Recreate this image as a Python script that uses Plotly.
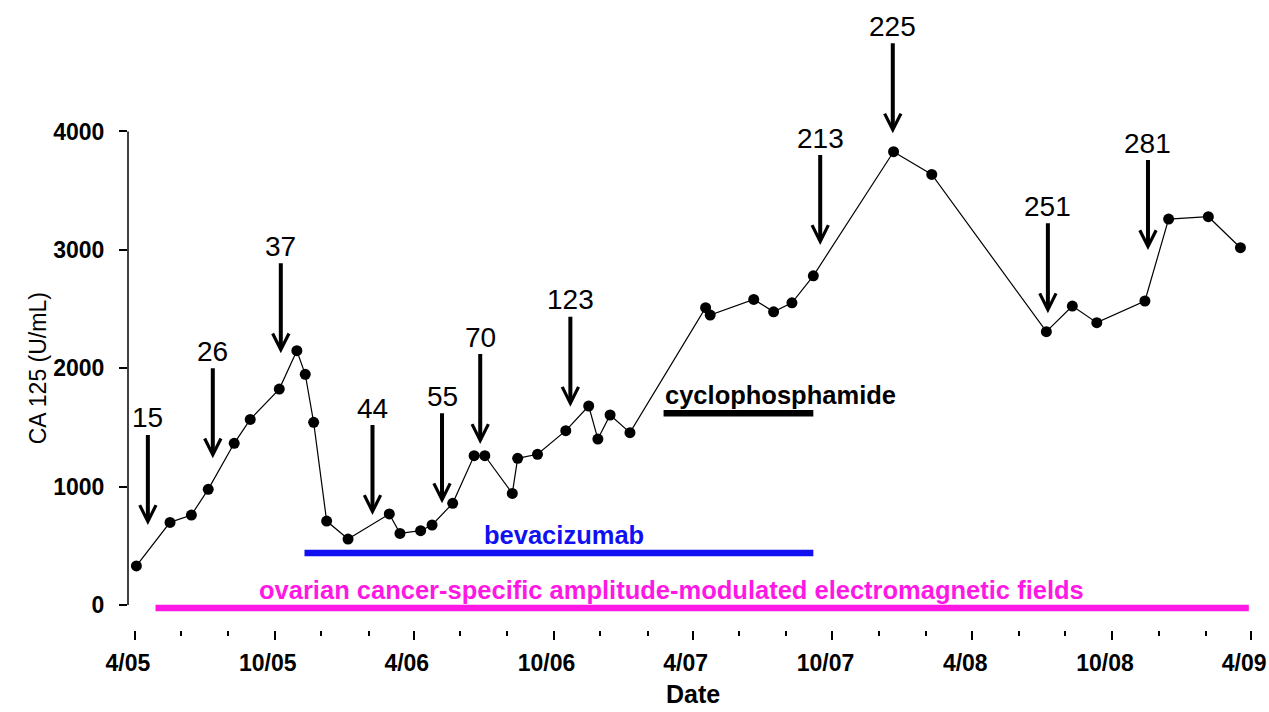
import plotly.graph_objects as go

# ---- data ----
sample_dates = [
    "2005-04-03", "2005-05-17", "2005-06-14", "2005-07-06", "2005-08-09", "2005-08-30",
    "2005-10-07", "2005-10-30", "2005-11-10", "2005-11-21", "2005-12-08", "2006-01-05",
    "2006-02-28", "2006-03-14", "2006-04-10", "2006-04-25", "2006-05-22", "2006-06-19",
    "2006-07-03", "2006-08-08", "2006-08-15", "2006-09-10", "2006-10-17", "2006-11-16",
    "2006-11-28", "2006-12-14", "2007-01-09", "2007-04-18", "2007-04-24", "2007-06-20",
    "2007-07-16", "2007-08-09", "2007-09-06", "2007-12-20", "2008-02-08", "2008-07-07",
    "2008-08-10", "2008-09-11", "2008-11-13", "2008-12-14", "2009-02-04", "2009-03-18",
]
ca125_values = [
    330, 698, 760, 977, 1366, 1568,
    1824, 2148, 1949, 1543, 709, 557,
    769, 605, 628, 676, 859, 1261,
    1261, 943, 1239, 1273, 1473, 1681,
    1402, 1605, 1456, 2512, 2449, 2581,
    2477, 2553, 2781, 3829, 3637, 2309,
    2525, 2385, 2568, 3260, 3280, 3018,
]

# annotated arrows (label, date pointed at, value at arrow tip)
arrow_labels = ["15", "26", "37", "44", "55", "70", "123", "213", "225", "251", "281"]
arrow_dates = ["2005-04-18", "2005-07-12", "2005-10-09", "2006-02-06", "2006-05-08",
               "2006-06-27", "2006-10-23", "2007-09-15", "2007-12-19", "2008-07-09",
               "2008-11-17"]
arrow_tips = [676, 1239, 2126, 760, 859, 1360, 1675, 3041, 3984, 2464, 2998]

# treatment periods
treatment_names = ["ovarian cancer-specific amplitude-modulated electromagnetic fields",
                   "bevacizumab", "cyclophosphamide"]
treatment_start = ["2005-04-28", "2005-11-09", "2007-02-22"]
treatment_end = ["2009-03-29", "2007-09-06", "2007-09-06"]
treatment_level = [-25, 440, 1620]
treatment_label_date = ["2007-03-05", "2006-10-14", "2007-07-25"]
treatment_colors = ["#ff18e4", "#1010f0", "#000000"]

y_ticks = [0, 1000, 2000, 3000, 4000]

FONT = "Liberation Sans, Arial, sans-serif"

fig = go.Figure()

# treatment bars
for name, s, e, lvl, c in zip(treatment_names, treatment_start, treatment_end,
                              treatment_level, treatment_colors):
    fig.add_trace(go.Scatter(x=[s, e], y=[lvl, lvl], mode="lines",
                             line=dict(color=c, width=6.5), hoverinfo="skip",
                             showlegend=False))

# data series
fig.add_trace(go.Scatter(x=sample_dates, y=ca125_values, mode="lines+markers",
                         line=dict(color="black", width=1.2),
                         marker=dict(color="black", size=11),
                         showlegend=False))

# treatment labels
for name, ld, lvl, c in zip(treatment_names, treatment_label_date, treatment_level,
                            treatment_colors):
    fig.add_annotation(x=ld, y=lvl, text="<b>" + name + "</b>", showarrow=False,
                       yshift=18, font=dict(family=FONT, size=25.5, color=c))

# arrows with numbers
for lab, d, v in zip(arrow_labels, arrow_dates, arrow_tips):
    fig.add_annotation(x=d, y=v, text=lab, showarrow=True, ax=0, ay=-107,
                       arrowhead=5, arrowsize=0.8, arrowwidth=4, arrowcolor="black",
                       font=dict(family=FONT, size=28, color="black"))

# y axis title
fig.add_annotation(xref="paper", yref="y", x=0, y=2000, xshift=-105,
                   text="CA 125 (U/mL)", textangle=-90, showarrow=False,
                   font=dict(family=FONT, size=23, color="black"))

# x axis title
fig.add_annotation(xref="paper", yref="paper", x=0.5, y=0, yshift=-64,
                   yanchor="middle", text="<b>Date</b>", showarrow=False,
                   font=dict(family=FONT, size=25, color="black"))

# y axis line limited to the 0-4000 span
fig.add_shape(type="line", xref="paper", yref="y", x0=0, x1=0, y0=0, y1=4000,
              line=dict(color="black", width=1.5))

fig.update_layout(
    width=1269, height=712,
    margin=dict(l=128, r=11, t=10, b=82),
    plot_bgcolor="white", paper_bgcolor="white",
    font=dict(family=FONT, color="black"),
)
fig.update_xaxes(
    type="date", range=["2005-03-23", "2009-04-10"],
    tick0="2005-04-01", dtick="M6", tickformat="%-m/%y",
    ticks="outside", ticklen=9, tickwidth=2, tickcolor="black",
    minor=dict(dtick="M2", tick0="2005-04-01", ticks="outside", ticklen=5,
               tickwidth=2, tickcolor="black", showgrid=False),
    showgrid=False, zeroline=False, showline=False, automargin=False,
    tickfont=dict(family=FONT, size=23, color="black", weight="bold"),
    ticklabelstandoff=3, ticklabelshift=-7, ticklabeloverflow="allow",
)
fig.update_yaxes(
    range=[-211, 5026], tickvals=y_ticks, ticktext=["<b>%d</b>" % t for t in y_ticks],
    ticks="outside", ticklen=8, tickwidth=1.5, tickcolor="black",
    showgrid=False, zeroline=False, showline=False, automargin=False,
    tickfont=dict(family=FONT, size=23, color="black"),
    ticklabelstandoff=10,
)

page_fix = ("document.documentElement.style.overflow='hidden';"
            "document.body.style.margin='0px';"
            "document.body.style.overflow='hidden';")
fig.write_html("out.html", post_script=page_fix, config={"displayModeBar": False})
